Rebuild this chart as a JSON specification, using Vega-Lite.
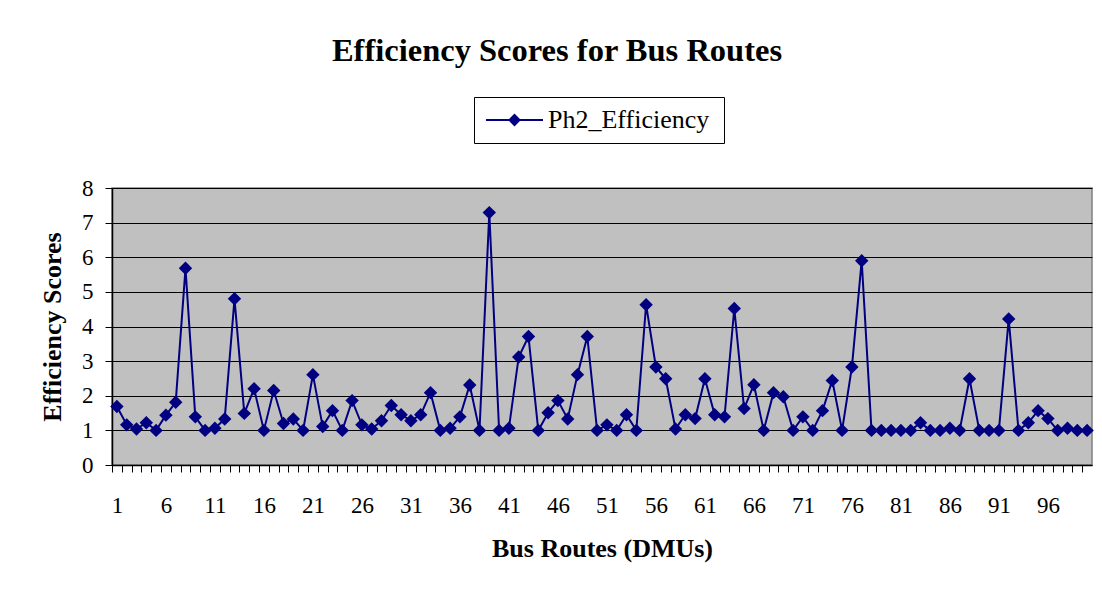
{
  "$schema": "https://vega.github.io/schema/vega-lite/v6.json",
  "autosize": {"type": "none"},
  "width": 980,
  "height": 277,
  "padding": {"left": 112, "top": 188, "right": 10, "bottom": 128},
  "background": "white",
  "title": {
    "text": "Efficiency Scores for Bus Routes",
    "font": "Liberation Serif",
    "fontSize": 32.5,
    "fontWeight": "bold",
    "color": "black",
    "anchor": "middle",
    "frame": "group",
    "dx": -45,
    "offset": 29
  },
  "data": {
    "values": [
      {"route": 1, "eff": 1.69}, {"route": 2, "eff": 1.16}, {"route": 3, "eff": 1.04}, {"route": 4, "eff": 1.22}, {"route": 5, "eff": 1.0},
      {"route": 6, "eff": 1.44}, {"route": 7, "eff": 1.81}, {"route": 8, "eff": 5.68}, {"route": 9, "eff": 1.39}, {"route": 10, "eff": 1.0},
      {"route": 11, "eff": 1.06}, {"route": 12, "eff": 1.33}, {"route": 13, "eff": 4.80}, {"route": 14, "eff": 1.49}, {"route": 15, "eff": 2.20},
      {"route": 16, "eff": 1.0}, {"route": 17, "eff": 2.15}, {"route": 18, "eff": 1.20}, {"route": 19, "eff": 1.33}, {"route": 20, "eff": 1.0},
      {"route": 21, "eff": 2.61}, {"route": 22, "eff": 1.11}, {"route": 23, "eff": 1.57}, {"route": 24, "eff": 1.0}, {"route": 25, "eff": 1.86},
      {"route": 26, "eff": 1.16}, {"route": 27, "eff": 1.04}, {"route": 28, "eff": 1.28}, {"route": 29, "eff": 1.72}, {"route": 30, "eff": 1.45},
      {"route": 31, "eff": 1.28}, {"route": 32, "eff": 1.45}, {"route": 33, "eff": 2.09}, {"route": 34, "eff": 1.0}, {"route": 35, "eff": 1.06},
      {"route": 36, "eff": 1.39}, {"route": 37, "eff": 2.31}, {"route": 38, "eff": 1.0}, {"route": 39, "eff": 7.29}, {"route": 40, "eff": 1.0},
      {"route": 41, "eff": 1.06}, {"route": 42, "eff": 3.12}, {"route": 43, "eff": 3.71}, {"route": 44, "eff": 1.0}, {"route": 45, "eff": 1.51},
      {"route": 46, "eff": 1.86}, {"route": 47, "eff": 1.33}, {"route": 48, "eff": 2.61}, {"route": 49, "eff": 3.71}, {"route": 50, "eff": 1.0},
      {"route": 51, "eff": 1.16}, {"route": 52, "eff": 1.0}, {"route": 53, "eff": 1.45}, {"route": 54, "eff": 1.0}, {"route": 55, "eff": 4.63},
      {"route": 56, "eff": 2.83}, {"route": 57, "eff": 2.49}, {"route": 58, "eff": 1.04}, {"route": 59, "eff": 1.45}, {"route": 60, "eff": 1.34},
      {"route": 61, "eff": 2.49}, {"route": 62, "eff": 1.45}, {"route": 63, "eff": 1.39}, {"route": 64, "eff": 4.52}, {"route": 65, "eff": 1.63},
      {"route": 66, "eff": 2.32}, {"route": 67, "eff": 1.0}, {"route": 68, "eff": 2.09}, {"route": 69, "eff": 1.97}, {"route": 70, "eff": 1.0},
      {"route": 71, "eff": 1.39}, {"route": 72, "eff": 1.0}, {"route": 73, "eff": 1.57}, {"route": 74, "eff": 2.44}, {"route": 75, "eff": 1.0},
      {"route": 76, "eff": 2.83}, {"route": 77, "eff": 5.90}, {"route": 78, "eff": 1.0}, {"route": 79, "eff": 1.0}, {"route": 80, "eff": 1.0},
      {"route": 81, "eff": 1.0}, {"route": 82, "eff": 1.0}, {"route": 83, "eff": 1.22}, {"route": 84, "eff": 1.0}, {"route": 85, "eff": 1.0},
      {"route": 86, "eff": 1.06}, {"route": 87, "eff": 1.0}, {"route": 88, "eff": 2.49}, {"route": 89, "eff": 1.0}, {"route": 90, "eff": 1.0},
      {"route": 91, "eff": 1.0}, {"route": 92, "eff": 4.22}, {"route": 93, "eff": 1.0}, {"route": 94, "eff": 1.22}, {"route": 95, "eff": 1.57},
      {"route": 96, "eff": 1.34}, {"route": 97, "eff": 1.0}, {"route": 98, "eff": 1.06}, {"route": 99, "eff": 1.0}, {"route": 100, "eff": 1.0}
    ]
  },
  "mark": {
    "type": "line",
    "strokeWidth": 2,
    "point": {"shape": "diamond", "size": 180, "filled": true, "color": "#000080", "opacity": 1}
  },
  "encoding": {
    "x": {
      "field": "route",
      "type": "ordinal",
      "scale": {"type": "point", "padding": 0.5},
      "axis": {
        "title": "Bus Routes (DMUs)",
        "labelAngle": 0,
        "labelExpr": "(datum.value - 1) % 5 == 0 ? datum.label : ''",
        "tickOffset": -4.9,
        "labelOffset": 4.9,
        "tickSize": 7,
        "labelPadding": 22,
        "titlePadding": 18,
        "grid": false
      }
    },
    "y": {
      "field": "eff",
      "type": "quantitative",
      "scale": {"domain": [0, 8], "nice": false, "zero": true},
      "axis": {
        "title": "Efficiency Scores",
        "values": [0, 1, 2, 3, 4, 5, 6, 7, 8],
        "tickSize": 7,
        "labelPadding": 12,
        "titlePadding": 16,
        "grid": true
      }
    },
    "color": {
      "datum": "Ph2_Efficiency",
      "type": "nominal",
      "scale": {"range": ["#000080"]},
      "legend": {
        "title": "\u00a0",
        "titleOrient": "right",
        "titlePadding": 5,
        "titleFontSize": 12,
        "orient": "none",
        "legendX": 362,
        "legendY": -91,
        "strokeColor": "black",
        "fillColor": "white",
        "padding": 10,
        "symbolType": "M-2.85,0H2.85M0,-0.5L0.5,0L0,0.5L-0.5,0Z",
        "symbolSize": 400,
        "symbolStrokeWidth": 2,
        "symbolOffset": 17.5,
        "symbolFillColor": "#000080",
        "labelOffset": 20.5,
        "labelFont": "Liberation Serif",
        "labelFontSize": 26,
        "labelColor": "black",
        "labelLimit": 400,
        "encode": {
          "symbols": {"update": {"fill": {"value": "#000080"}, "stroke": {"value": "#000080"}, "strokeWidth": {"value": 2}}}
        }
      }
    }
  },
  "config": {
    "view": {"fill": "#C0C0C0", "stroke": "#808080", "strokeWidth": 1.5},
    "legend": {"labelFont": "Liberation Serif", "labelFontSize": 26},
    "axis": {
      "labelFont": "Liberation Serif",
      "labelFontSize": 23,
      "labelColor": "black",
      "titleFont": "Liberation Serif",
      "titleFontSize": 26,
      "titleFontWeight": "bold",
      "titleColor": "black",
      "domainColor": "black",
      "domainWidth": 1.5,
      "tickColor": "black",
      "tickWidth": 1,
      "gridColor": "black",
      "gridWidth": 1,
      "gridOpacity": 1
    }
  }
}
